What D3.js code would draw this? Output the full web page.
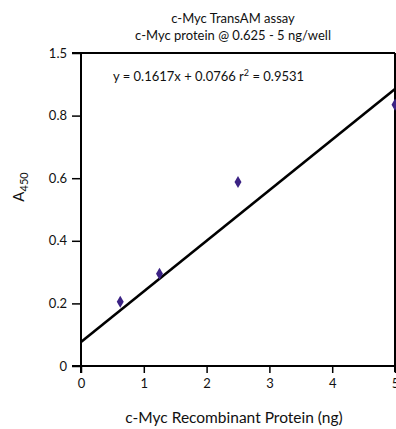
<!DOCTYPE html>
<html>
<head>
<meta charset="utf-8">
<script src="https://cdn.jsdelivr.net/npm/d3@7"></script>
<style>
  html, body { margin: 0; padding: 0; background: #fff; }
  svg { display: block; }
  text { font-family: Lato, "Open Sans", sans-serif; fill: #111; }
</style>
</head>
<body>
<svg id="chart" width="396" height="429"></svg>
<script>
// Data
const concentrations = [0.625, 1.25, 2.5, 5];
const absorbance = [0.205, 0.295, 0.588, 0.835];
const slope = 0.1617;
const intercept = 0.0766;
const yTickValues = [0, 0.2, 0.4, 0.6, 0.8, 1.0];
const yTickLabels = ["0", "0.2", "0.4", "0.6", "0.8", "1.5"];
const xTickValues = [0, 1, 2, 3, 4, 5];
const titleLines = ["c-Myc TransAM assay", "c-Myc protein @ 0.625 - 5 ng/well"];
const equationText = "y = 0.1617x + 0.0766 r";
const r2Text = " = 0.9531";

const svg = d3.select("#chart");
const x = d3.scaleLinear().domain([0, 5]).range([81, 395]);
const y = d3.scaleLinear().domain([0, 1]).range([366, 53]);

// Title
svg.selectAll("text.title").data(titleLines).enter().append("text")
  .attr("class", "title")
  .attr("x", 233).attr("y", (d, i) => 23 + i * 17)
  .attr("text-anchor", "middle")
  .attr("font-size", 13)
  .text(d => d);

// Box: top and right borders
svg.append("line").attr("x1", x(0) - 9).attr("x2", x(5)).attr("y1", y(1)).attr("y2", y(1))
  .attr("stroke", "#000").attr("stroke-width", 2);
svg.append("line").attr("x1", x(5)).attr("x2", x(5)).attr("y1", y(1)).attr("y2", y(0) + 6)
  .attr("stroke", "#000").attr("stroke-width", 2);

// Y axis
const yAxis = d3.axisLeft(y).tickValues(yTickValues)
  .tickFormat((d, i) => yTickLabels[i]).tickSize(9).tickPadding(5);
const gy = svg.append("g").attr("transform", `translate(${x(0)},0)`).call(yAxis);
gy.select(".domain").remove();
gy.append("line").attr("x1", 0).attr("x2", 0).attr("y1", y(1)).attr("y2", y(0) + 7)
  .attr("stroke", "#000").attr("stroke-width", 2);
gy.selectAll(".tick line").attr("stroke", "#000").attr("stroke-width", 1.5);
gy.selectAll(".tick text").attr("font-size", 13)
  .style("font-family", "'Liberation Sans Narrow', Lato, sans-serif").attr("fill", "#111");

// X axis
const xAxis = d3.axisBottom(x).tickValues(xTickValues).tickFormat(d3.format("d")).tickSize(7).tickPadding(6);
const gx = svg.append("g").attr("transform", `translate(0,${y(0)})`).call(xAxis);
gx.select(".domain").remove();
gx.append("line").attr("x1", x(0) - 9).attr("x2", x(5)).attr("y1", 0).attr("y2", 0)
  .attr("stroke", "#000").attr("stroke-width", 2);
gx.selectAll(".tick line").attr("stroke", "#000").attr("stroke-width", 1.5);
gx.selectAll(".tick text").attr("font-size", 13).attr("fill", "#111");

// Trend line
svg.append("line")
  .attr("x1", x(0)).attr("y1", y(intercept))
  .attr("x2", x(5)).attr("y2", y(slope * 5 + intercept))
  .attr("stroke", "#000").attr("stroke-width", 2.6);

// Points
svg.selectAll("path.pt").data(concentrations).enter().append("path")
  .attr("class", "pt")
  .attr("d", d3.symbol().type(d3.symbolDiamond).size(42))
  .attr("transform", (d, i) => `translate(${x(d)},${y(absorbance[i])})`)
  .attr("fill", "#3b2284");

// Equation
const eq = svg.append("text").attr("x", 113).attr("y", 81).attr("font-size", 13);
eq.append("tspan").text(equationText);
eq.append("tspan").attr("font-size", 9).attr("dy", -5).text("2");
eq.append("tspan").attr("dy", 5).text(r2Text);

// X label
svg.append("text").attr("x", 234).attr("y", 423).attr("text-anchor", "middle")
  .attr("font-size", 15.5).text("c-Myc Recombinant Protein (ng)");

// Y label
const yl = svg.append("text").attr("transform", "translate(24,187) rotate(-90)")
  .attr("text-anchor", "middle").attr("font-size", 15);
yl.append("tspan").text("A");
yl.append("tspan").attr("font-size", 11).attr("dy", 4).text("450");
</script>
</body>
</html>
